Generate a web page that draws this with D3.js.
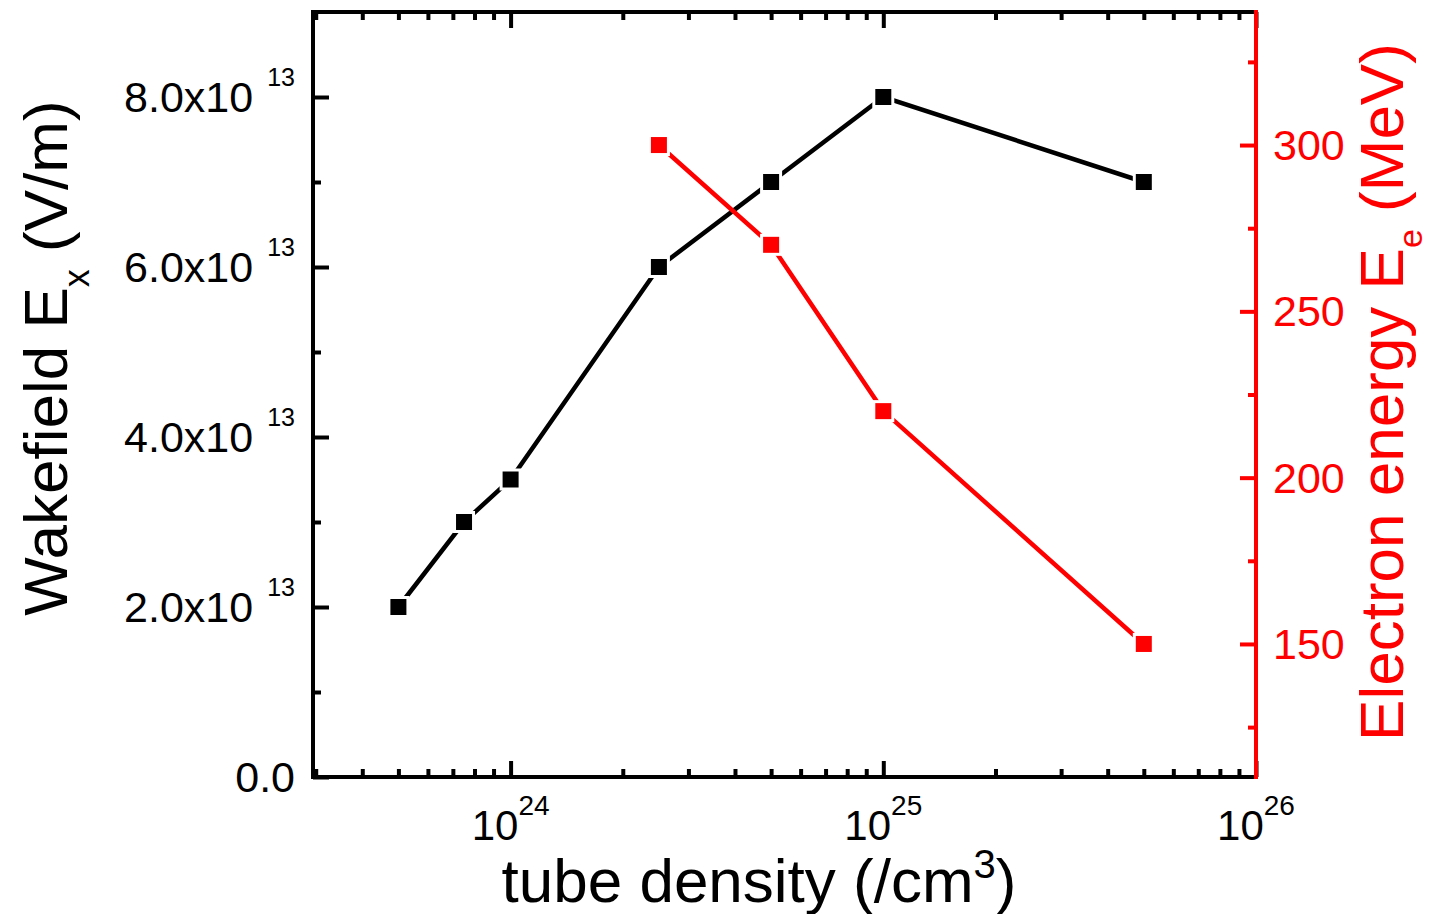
<!DOCTYPE html>
<html>
<head>
<meta charset="utf-8">
<script src="https://cdn.jsdelivr.net/npm/d3@7"></script>
<style>
  body { margin: 0; background: #fff; }
  svg { display: block; font-family: "Liberation Sans", Arial, sans-serif; }
</style>
</head>
<body>
<div class="chart"></div>
<script>
// tube density (/cm^3) for each series
const densityWake = [5e23, 7.5e23, 1e24, 2.5e24, 5e24, 1e25, 5e25];
const wakefield = [2e13, 3e13, 3.5e13, 6e13, 7e13, 8e13, 7e13];   // V/m
const densityEnergy = [2.5e24, 5e24, 1e25, 5e25];
const energy = [300, 270, 220, 150];   // MeV

const xMajorTicks = [1e24, 1e25, 1e26];
const xMajorExp = ["24", "25", "26"];
const yLeftMajor = [0, 2e13, 4e13, 6e13, 8e13];
const yLeftLabels = ["0.0", "2.0x10", "4.0x10", "6.0x10", "8.0x10"];
const yLeftMinor = [1e13, 3e13, 5e13, 7e13];
const yRightMajor = [150, 200, 250, 300];
const yRightMinor = [125, 175, 225, 275, 325];

const width = 1430, height = 914;
const pLeft = 313, pRight = 1256, pTop = 12, pBottom = 777;
const red = "#ff0000";

const svg = d3.select(".chart").append("svg")
    .attr("width", width)
    .attr("height", height);

const x = d3.scaleLog().domain([2.95e23, 1e26]).range([pLeft, pRight]);
const yL = d3.scaleLinear().domain([0, 9e13]).range([pBottom, pTop]);
const yR = d3.scaleLinear().domain([110, 340]).range([pBottom, pTop]);

// minor x ticks 2..9 x 10^n inside the domain
let xMinor = [];
for (let e = 23; e <= 25; e++) {
    for (let k = 2; k <= 9; k++) {
        const v = k * Math.pow(10, e);
        if (v > x.domain()[0] && v < x.domain()[1]) xMinor.push(v);
    }
}

const styleAxis = (g, color) => {
    g.select(".domain").remove();
    g.selectAll(".tick line").attr("stroke", color).attr("stroke-width", 4);
    g.selectAll(".tick text").remove();
};

// bottom + top axes (ticks inward)
svg.append("g").attr("transform", `translate(0,${pBottom})`)
    .call(d3.axisBottom(x).tickValues(xMinor).tickSize(-8)).call(g => styleAxis(g, "#000"));
svg.append("g").attr("transform", `translate(0,${pBottom})`)
    .call(d3.axisBottom(x).tickValues(xMajorTicks).tickSize(-16)).call(g => styleAxis(g, "#000"));
svg.append("g").attr("transform", `translate(0,${pTop})`)
    .call(d3.axisTop(x).tickValues(xMinor).tickSize(-8)).call(g => styleAxis(g, "#000"));
svg.append("g").attr("transform", `translate(0,${pTop})`)
    .call(d3.axisTop(x).tickValues(xMajorTicks).tickSize(-16)).call(g => styleAxis(g, "#000"));

// left axis
svg.append("g").attr("transform", `translate(${pLeft},0)`)
    .call(d3.axisLeft(yL).tickValues(yLeftMinor).tickSize(-8)).call(g => styleAxis(g, "#000"));
svg.append("g").attr("transform", `translate(${pLeft},0)`)
    .call(d3.axisLeft(yL).tickValues(yLeftMajor).tickSize(-16)).call(g => styleAxis(g, "#000"));

// right axis (red)
svg.append("g").attr("transform", `translate(${pRight},0)`)
    .call(d3.axisRight(yR).tickValues(yRightMinor).tickSize(-8)).call(g => styleAxis(g, red));
svg.append("g").attr("transform", `translate(${pRight},0)`)
    .call(d3.axisRight(yR).tickValues(yRightMajor).tickSize(-16)).call(g => styleAxis(g, red));

// frame
const frame = svg.append("g").attr("stroke-width", 4).attr("stroke-linecap", "square");
frame.append("line").attr("x1", pLeft).attr("x2", pRight).attr("y1", pTop).attr("y2", pTop).attr("stroke", "#000");
frame.append("line").attr("x1", pLeft).attr("x2", pRight).attr("y1", pBottom).attr("y2", pBottom).attr("stroke", "#000");
frame.append("line").attr("x1", pLeft).attr("x2", pLeft).attr("y1", pTop).attr("y2", pBottom).attr("stroke", "#000");
frame.append("line").attr("x1", pRight).attr("x2", pRight).attr("y1", pTop).attr("y2", pBottom).attr("stroke", red);

// x tick labels: 10^n
const xLab = svg.append("g").attr("font-size", 42).attr("fill", "#000").attr("text-anchor", "middle");
xMajorTicks.forEach((v, i) => {
    const t = xLab.append("text").attr("x", x(v)).attr("y", 840);
    t.append("tspan").text("10");
    t.append("tspan").attr("dy", -25).attr("font-size", 28).text(xMajorExp[i]);
});

// left tick labels
const yLab = svg.append("g").attr("font-size", 43).attr("fill", "#000").attr("text-anchor", "end");
yLeftMajor.forEach((v, i) => {
    const t = yLab.append("text").attr("x", 295).attr("y", yL(v) + 15);
    t.append("tspan").text(yLeftLabels[i]);
    if (v !== 0) t.append("tspan").attr("dx", 14).attr("dy", -26).attr("font-size", 25).text("13");
});

// right tick labels
svg.append("g").attr("font-size", 43).attr("fill", red)
    .selectAll("text").data(yRightMajor).join("text")
    .attr("x", 1273).attr("y", d => yR(d) + 15)
    .text(d => d);

// series
const lineW = d3.line().x((d, i) => x(densityWake[i])).y(d => yL(d));
const lineE = d3.line().x((d, i) => x(densityEnergy[i])).y(d => yR(d));

const drawSeries = (xs, ys, yScale, line, color) => {
    svg.append("path").datum(ys)
        .attr("d", line)
        .attr("fill", "none")
        .attr("stroke", color)
        .attr("stroke-width", 4.5);
    svg.append("g").selectAll("rect").data(ys).join("rect")
        .attr("x", (d, i) => x(xs[i]) - 8)
        .attr("y", d => yScale(d) - 8)
        .attr("width", 16).attr("height", 16)
        .attr("fill", color)
        .attr("stroke", "#fff").attr("stroke-width", 6)
        .style("paint-order", "stroke");
};
drawSeries(densityWake, wakefield, yL, lineW, "#000");
drawSeries(densityEnergy, energy, yR, lineE, red);

// axis titles
const tLeft = svg.append("text")
    .attr("transform", "translate(67,358) rotate(-90)")
    .attr("text-anchor", "middle").attr("font-size", 62).attr("fill", "#000");
tLeft.append("tspan").text("Wakefield E");
tLeft.append("tspan").attr("dy", 22).attr("font-size", 36).text("x");
tLeft.append("tspan").attr("dy", -22).text(" (V/m)");

const tRight = svg.append("text")
    .attr("transform", "translate(1403,392) rotate(-90)")
    .attr("text-anchor", "middle").attr("font-size", 62).attr("fill", red);
tRight.append("tspan").text("Electron energy E");
tRight.append("tspan").attr("dy", 19).attr("font-size", 34).text("e");
tRight.append("tspan").attr("dy", -19).text(" (MeV)");

const tBottom = svg.append("text")
    .attr("x", 759).attr("y", 902)
    .attr("text-anchor", "middle").attr("font-size", 62).attr("fill", "#000");
tBottom.append("tspan").text("tube density (/cm");
tBottom.append("tspan").attr("dy", -24).attr("font-size", 40).text("3");
tBottom.append("tspan").attr("dy", 24).text(")");
</script>
</body>
</html>
